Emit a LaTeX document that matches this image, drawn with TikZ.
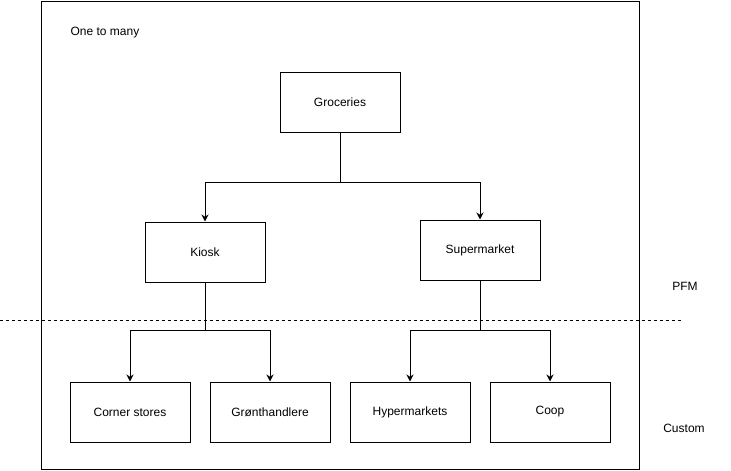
\documentclass[tikz,border=0pt]{standalone}
\usepackage{fontspec}
\setmainfont{Liberation Sans}
\usetikzlibrary{arrows.meta}

\begin{document}
\begin{tikzpicture}[x=1pt, y=-1pt, line width=1pt,
  box/.style={draw, minimum width=120pt, minimum height=60pt, font=\fontsize{12}{14}\selectfont},
  label text/.style={font=\fontsize{12}{14}\selectfont},
  arr/.style={arrows = {-Stealth[width=7pt, length=7pt]}}]
\useasboundingbox (0, 0) rectangle (731, 471);
\draw (41, 1) rectangle (639, 469);
\node[label text] (title) at (105, 33) {One to many};
\node[label text] (pfm) at (685, 286) {PFM};
\node[label text] (custom) at (684, 428) {Custom};
\draw[dashed, line width=0.8pt] (0, 320) -- (681, 320);
\node[box] (groceries) at (340, 102) {Groceries};
\node[box] (kiosk) at (205, 252) {Kiosk};
\node[box] (supermarket) at (480, 250) {Supermarket};
\node[box] (corner) at (130, 412) {Corner stores};
\node[box] (green) at (270, 412) {Grønthandlere};
\node[box] (hyper) at (410, 412) {Hypermarkets};
\node[box] (coop) at (550, 412) {Coop};
\coordinate (gsplit) at (340, 182);
\coordinate (ksplit) at (205, 330);
\coordinate (ssplit) at (480, 330);
\draw (groceries) -- (gsplit);
\draw[arr] (gsplit) -| (kiosk);
\draw[arr] (gsplit) -| (supermarket);
\draw (kiosk) -- (ksplit);
\draw[arr] (ksplit) -| (corner);
\draw[arr] (ksplit) -| (green);
\draw (supermarket) -- (ssplit);
\draw[arr] (ssplit) -| (hyper);
\draw[arr] (ssplit) -| (coop);
\end{tikzpicture}
\end{document}
